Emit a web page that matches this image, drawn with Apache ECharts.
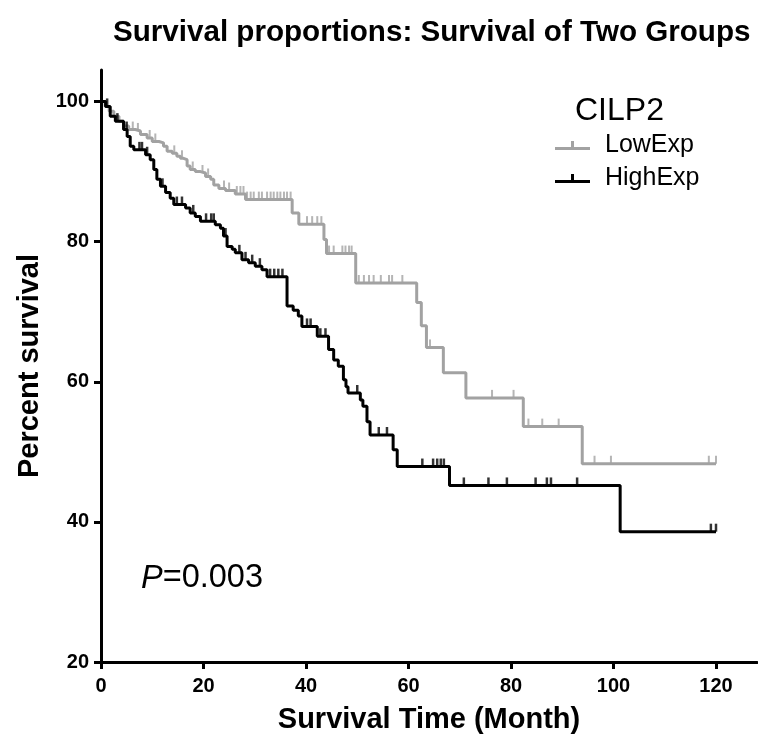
<!DOCTYPE html>
<html>
<head>
<meta charset="utf-8">
<script src="https://cdn.jsdelivr.net/npm/echarts@6/dist/echarts.min.js"></script>
<style>html,body{margin:0;padding:0;background:#fff}#c{width:758px;height:739px}</style>
</head>
<body>
<div id="c"></div>
<script>
// ---- Data ----
const xTicks = [0, 20, 40, 60, 80, 100, 120];
const yTicks = [20, 40, 60, 80, 100];

// Kaplan-Meier steps: [month, percent survival after the drop]
const lowSteps = [
  [0,100],[0.8,99.3],[1.6,98.6],[2.5,97.9],[3.5,97.2],[4.4,96.5],[5.4,96.0],[6.7,95.8],
  [7.7,95.3],[9,94.8],[10,94.3],[11.3,94.1],[12.2,93.6],[12.9,92.9],[13.9,92.6],[14.8,92.2],
  [15.5,91.9],[16.1,91.7],[16.8,90.8],[17.4,90.3],[18.4,90.0],[19.4,89.8],[20.4,89.3],
  [21.4,88.9],[22,88.1],[23,87.6],[24.3,87.3],[26.2,86.8],[28.2,86.0],[37.3,84.1],
  [38.6,82.5],[43.5,80.3],[44.0,78.3],[49.7,74.1],[61.6,71.3],[62.5,68.0],[63.5,64.9],
  [66.8,61.3],[71.2,57.7],[82.4,53.6],[93.9,48.3],[120,48.3]
];
const highSteps = [
  [0,100],[0.9,99.3],[1.8,97.9],[2.8,97.2],[4.4,96.0],[5.1,95.0],[5.7,93.6],[6.4,93.1],
  [8.7,92.4],[9.6,91.7],[10.3,90.3],[10.9,88.9],[11.6,87.9],[12.6,87.0],[13.5,86.2],
  [14.2,85.3],[16.5,84.8],[17.4,84.1],[18.4,83.6],[19.4,82.9],[22.3,82.4],[23.3,81.9],
  [23.9,80.8],[24.6,79.3],[25.6,78.9],[26.2,78.4],[27.5,77.4],[28.8,77.0],[30.1,76.5],
  [31.4,76.0],[32.4,75.0],[36.3,70.8],[37.5,70.2],[38.5,69.4],[39.2,67.9],[42.2,66.5],
  [44.4,64.6],[45.4,63.1],[46.3,62.2],[47.3,60.3],[47.8,59.3],[48.2,58.4],[50.6,57.4],
  [51.1,56.5],[51.9,54.3],[52.5,52.4],[57.0,50.3],[57.8,47.9],[68.0,45.2],[101.3,38.6],
  [120,38.6]
];

// Censoring times (months)
const lowCensor = [
  6.2,7.2,9.5,10.6,14.3,15.8,17.9,19.8,20.9,24.0,25.0,26.5,27.2,27.8,
  28.5,29.2,29.8,30.8,31.4,32.4,33.1,33.7,34.4,35,35.7,36.3,37.0,
  40.2,41.2,42.2,43.0,44.5,45.4,47.1,47.7,48.4,48.9,
  50.3,51.3,52.3,53.2,54.6,56.2,56.8,58.8,64.2,76.3,80.5,83.4,86.1,89.3,
  96.3,99.5,118.6,120
];
const highCensor = [
  1.2,3.2,5.0,7.5,8.0,9.0,12.0,14.8,15.8,18.0,20.5,21.5,22.0,24.3,27.0,28.2,29.5,
  31.0,33.0,33.8,34.6,35.4,40.2,40.9,42.8,43.8,50.0,54.2,55.8,
  62.7,64.8,65.6,66.3,66.9,70.8,75.6,79.2,84.8,87.0,87.8,92.9,119.0,120
];

const groupNames = ['LowExp', 'HighExp'];
const legendTitle = 'CILP2';
const pValue = '0.003';

// ---- Chart ----
function survAt(steps, t) {
  let v = steps[0][1];
  for (const [m, p] of steps) { if (m <= t) v = p; }
  return v;
}
const lowColor = '#a2a2a2', highColor = '#000000';
const tickIcon = 'path://M0,9h35v3h-35z M16,3h3v7h-3z';
const font = 'Liberation Sans, Arial, sans-serif';

const chart = echarts.init(document.getElementById('c'));
chart.setOption({
  animation: false,
  backgroundColor: '#fff',
  title: {
    text: 'Survival proportions: Survival of Two Groups',
    left: 113, top: 18, padding: 0,
    textStyle: { fontFamily: font, fontSize: 29.6, fontWeight: 'bold', color: '#000' }
  },
  legend: {
    orient: 'vertical', left: 555, top: 133, padding: 0,
    itemWidth: 35, itemHeight: 9, itemGap: 8,
    textStyle: { fontFamily: font, fontSize: 25, color: '#000', padding: [0,0,0,10] },
    data: [
      { name: groupNames[0], icon: tickIcon },
      { name: groupNames[1], icon: tickIcon }
    ]
  },
  graphic: [
    { type: 'text', left: 575, top: 95,
      style: { text: legendTitle, font: 'normal 32px ' + font, fill: '#000' } },
    { type: 'text', left: 141, top: 562,
      style: { text: '{i|P}=' + pValue, font: 'normal 32.5px ' + font, fill: '#000',
        rich: { i: { fontStyle: 'italic', fontSize: 32.5, fontFamily: font } } } }
  ],
  grid: { left: 101, right: 1, top: 70, bottom: 77 },
  xAxis: {
    type: 'value', min: 0, max: 128,
    name: 'Survival Time (Month)', nameLocation: 'middle', nameGap: 43,
    nameTextStyle: { fontFamily: font, fontSize: 29, fontWeight: 'bold', color: '#000' },
    axisLine: { onZero: false, lineStyle: { color: '#000', width: 3 } },
    axisTick: { customValues: xTicks, length: 7, lineStyle: { color: '#000', width: 3 } },
    axisLabel: { customValues: xTicks, margin: 14, fontFamily: font, fontSize: 20, fontWeight: 'bold', color: '#000' },
    splitLine: { show: false }
  },
  yAxis: {
    type: 'value', min: 20, max: 104.5,
    name: 'Percent survival', nameLocation: 'middle', nameGap: 56,
    nameTextStyle: { fontFamily: font, fontSize: 29, fontWeight: 'bold', color: '#000' },
    axisLine: { show: true, onZero: false, lineStyle: { color: '#000', width: 3 } },
    axisTick: { show: true, customValues: yTicks, length: 7, lineStyle: { color: '#000', width: 3 } },
    axisLabel: { customValues: yTicks, margin: 12, fontFamily: font, fontSize: 20, fontWeight: 'bold', color: '#000' },
    splitLine: { show: false }
  },
  series: [
    { name: groupNames[0], type: 'line', step: 'end', data: lowSteps, showSymbol: false,
      color: lowColor, lineStyle: { width: 3, color: lowColor }, z: 2 },
    { name: groupNames[1], type: 'line', step: 'end', data: highSteps, showSymbol: false,
      color: highColor, lineStyle: { width: 3, color: highColor }, z: 3 },
    { name: groupNames[0], type: 'scatter', data: lowCensor.map(t => [t, survAt(lowSteps, t)]),
      symbol: 'rect', symbolSize: [2, 8], symbolOffset: [0, -4], color: lowColor, z: 2 },
    { name: groupNames[1], type: 'scatter', data: highCensor.map(t => [t, survAt(highSteps, t)]),
      symbol: 'rect', symbolSize: [2.5, 8], symbolOffset: [0, -4], color: highColor, z: 3 }
  ]
});
</script>
</body>
</html>
